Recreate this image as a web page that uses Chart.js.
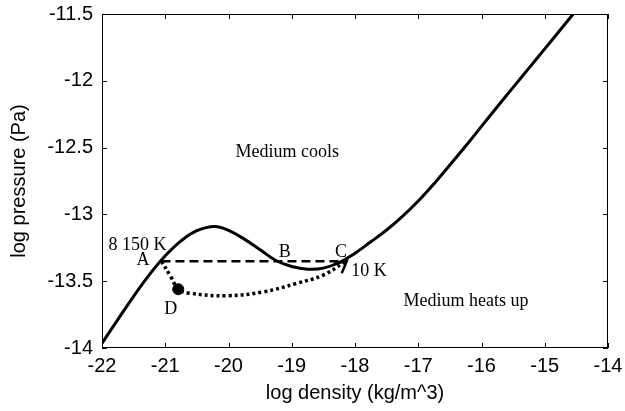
<!DOCTYPE html>
<html>
<head>
<meta charset="utf-8">
<script src="https://cdn.jsdelivr.net/npm/chart.js@4/dist/chart.umd.min.js"></script>
<style>
  html, body { margin: 0; padding: 0; background: #fff; }
  #wrap { width: 625px; height: 411px; }
</style>
</head>
<body>
<div id="wrap"><canvas id="chartPhase"></canvas></div>
<script>
// --- DATA ---
// equilibrium curve: log density vs log pressure
const curveX = [-22, -21.75, -21.5, -21.25, -21.0, -20.75, -20.5, -20.22, -20.0, -19.75, -19.5, -19.25, -19.0, -18.75, -18.5, -18.25, -18.0, -17.75, -17.5, -17.25, -17.0, -16.75, -16.5, -16.25, -16.0, -15.75, -15.5, -15.25, -15.0, -14.75, -14.55];
const curveY = [-13.965, -13.787, -13.613, -13.451, -13.31, -13.198, -13.122, -13.09, -13.12, -13.185, -13.265, -13.345, -13.39, -13.41, -13.402, -13.36, -13.29, -13.205, -13.117, -13.015, -12.9, -12.77, -12.63, -12.488, -12.341, -12.194, -12.049, -11.905, -11.761, -11.616, -11.5];

// isobaric path A -> C (dashed)
const dashX = [-21.06, -18.13];
const dashY = [-13.35, -13.35];

// path A -> D -> C (dotted)
const dotX = [-21.06, -20.92, -20.79, -20.61, -20.03, -19.45, -18.92, -18.5, -18.19, -18.13];
const dotY = [-13.35, -13.46, -13.56, -13.59, -13.609, -13.58, -13.516, -13.454, -13.366, -13.35];

// arrow head at C
const arrowX = [-18.21, -18.13, -18.33];
const arrowY = [-13.44, -13.35, -13.37];

// point D
const pointD = { x: -20.795, y: -13.56 };

// text labels placed in data coordinates
const noteText = ['8 150 K', 'A', 'B', 'C', '10 K', 'D', 'Medium cools', 'Medium heats up'];
const noteX = [-21.44, -21.35, -19.11, -18.22, -17.78, -20.915, -19.07, -16.245];
const noteY = [-13.232, -13.347, -13.281, -13.28, -13.425, -13.708, -12.533, -13.653];

// axes
const xTicks = [-22, -21, -20, -19, -18, -17, -16, -15, -14];
const yTicks = [-14, -13.5, -13, -12.5, -12, -11.5];

const toPoints = (xs, ys) => xs.map((x, i) => ({ x: x, y: ys[i] }));

// --- PLUGIN: box with inward ticks (matlab look) ---
const boxTicks = {
    id: 'boxTicks',
    afterDatasetsDraw(chart) {
        const { ctx, chartArea: a, scales } = chart;
        ctx.save();
        ctx.strokeStyle = '#000';
        ctx.lineWidth = 1;
        ctx.strokeRect(a.left + 0.5, a.top + 0.5, a.right - a.left - 1, a.bottom - a.top - 1);
        ctx.beginPath();
        xTicks.forEach(v => {
            const px = Math.round(scales.x.getPixelForValue(v)) + 0.5;
            ctx.moveTo(px, a.bottom); ctx.lineTo(px, a.bottom - 5);
            ctx.moveTo(px, a.top); ctx.lineTo(px, a.top + 5);
        });
        yTicks.forEach(v => {
            const py = Math.round(scales.y.getPixelForValue(v)) + 0.5;
            ctx.moveTo(a.left, py); ctx.lineTo(a.left + 5, py);
            ctx.moveTo(a.right, py); ctx.lineTo(a.right - 5, py);
        });
        ctx.stroke();
        ctx.restore();
    }
};

// --- PLUGIN: serif annotations ---
const notes = {
    id: 'notes',
    afterDatasetsDraw(chart) {
        const { ctx, scales } = chart;
        ctx.save();
        ctx.fillStyle = '#000';
        ctx.font = "18px 'Liberation Serif', 'DejaVu Serif', serif";
        ctx.textAlign = 'center';
        ctx.textBaseline = 'middle';
        noteText.forEach((t, i) => {
            ctx.fillText(t, scales.x.getPixelForValue(noteX[i]), scales.y.getPixelForValue(noteY[i]));
        });
        ctx.restore();
    }
};

Chart.defaults.font.family = "'Liberation Sans', Arial, sans-serif";
Chart.defaults.color = '#000';

new Chart(document.getElementById('chartPhase'), {
    type: 'line',
    data: {
        datasets: [
            {
                data: toPoints(curveX, curveY),
                borderColor: '#000',
                borderWidth: 3,
                tension: 0.4,
                pointRadius: 0
            },
            {
                data: toPoints(dashX, dashY),
                borderColor: '#000',
                borderWidth: 2.5,
                borderDash: [9, 5],
                pointRadius: 0
            },
            {
                data: toPoints(dotX, dotY),
                borderColor: '#000',
                borderWidth: 3.5,
                borderDash: [3, 3],
                tension: 0.4,
                pointRadius: 0
            },
            {
                data: toPoints(arrowX, arrowY),
                borderColor: '#000',
                borderWidth: 2.5,
                pointRadius: 0
            },
            {
                data: [pointD],
                showLine: false,
                pointRadius: 5.5,
                backgroundColor: '#000',
                borderColor: '#000'
            }
        ]
    },
    options: {
        responsive: true,
        maintainAspectRatio: false,
        animation: false,
        layout: { padding: { left: 0, right: 17, top: 14, bottom: 0 } },
        plugins: {
            legend: { display: false },
            tooltip: { enabled: false }
        },
        scales: {
            x: {
                type: 'linear',
                min: -22,
                max: -14,
                afterFit: s => { s.height = 63; s.paddingLeft = 0; s.paddingRight = 0; },
                afterBuildTicks: s => { s.ticks = xTicks.map(v => ({ value: v })); },
                grid: { display: false, drawTicks: false },
                border: { display: false },
                ticks: { font: { size: 20 }, padding: 6, maxRotation: 0, callback: v => String(v) },
                title: { display: true, text: 'log density (kg/m^3)', font: { size: 20 }, padding: { bottom: 6 } }
            },
            y: {
                type: 'linear',
                min: -14,
                max: -11.5,
                afterFit: s => { s.width = 102; s.paddingTop = 0; s.paddingBottom = 0; },
                afterBuildTicks: s => { s.ticks = yTicks.map(v => ({ value: v })); },
                grid: { display: false, drawTicks: false },
                border: { display: false },
                ticks: { font: { size: 20 }, padding: 9, callback: v => String(v) },
                title: { display: true, text: 'log pressure (Pa)', font: { size: 20 }, padding: { top: 7 } }
            }
        }
    },
    plugins: [boxTicks, notes]
});
</script>
</body>
</html>
